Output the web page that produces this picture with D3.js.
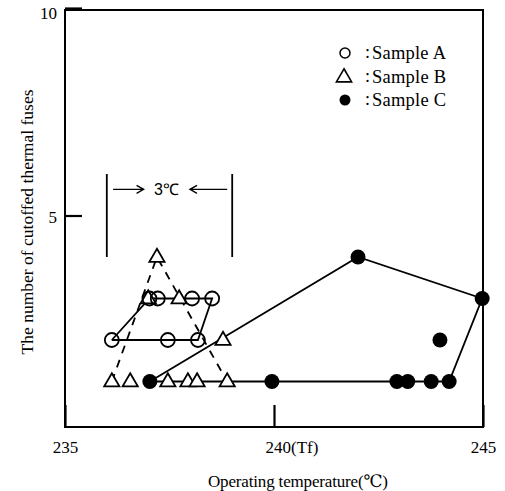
<!DOCTYPE html>
<html>
<head>
<meta charset="utf-8">
<script src="https://cdn.jsdelivr.net/npm/d3@7"></script>
<style>
  body { margin: 0; background: #fff; }
  svg { display: block; font-family: "Liberation Serif", "DejaVu Serif", serif; }
</style>
</head>
<body>
<script>
// sample A : open circles, solid outline (closed in this order)
const tempsA = [236.12, 237.02, 237.22, 238.04, 238.52, 238.18, 237.46];
const countsA = [2, 3, 3, 3, 3, 2, 2];

// sample B : open triangles, dashed outline through outlineB indices
const tempsB = [236.12, 236.56, 237.46, 237.94, 238.16, 238.88, 238.78, 237.73, 236.99, 237.2];
const countsB = [1, 1, 1, 1, 1, 1, 2, 3, 3, 4];
const outlineB = [0, 9, 5];

// sample C : filled circles, solid outline through outlineC indices
const tempsC = [237.03, 239.95, 242.94, 243.2, 243.76, 244.19, 244.98, 242.01, 243.97];
const countsC = [1, 1, 1, 1, 1, 1, 3, 4, 2];
const outlineC = [0, 7, 6, 5, 4, 3, 2, 1, 0];

const xTicks = [235, 240, 245];
const xTickLabels = ['235', '240(Tf)', '245'];
const yTicks = [5, 10];

const legendNames = ['Sample A', 'Sample B', 'Sample C'];
const bracketTemps = [236, 239];
const bracketCounts = [4, 6];
const bracketText = '3℃';

const width = 505, height = 491;

const svg = d3.select('body')
    .append('svg')
    .attr('width', width)
    .attr('height', height);

const x = d3.scaleLinear().domain([235, 245]).range([65, 483]);
const y = d3.scaleLinear().domain([0, 10]).range([423, 8]);

// frame
svg.append('rect')
    .attr('x', 65)
    .attr('y', 10)
    .attr('width', 418)
    .attr('height', 417)
    .attr('fill', 'none')
    .attr('stroke', '#000')
    .attr('stroke-width', 2);

// x axis (inward ticks)
const xAxis = d3.axisBottom(x)
    .tickValues(xTicks)
    .tickSize(-22)
    .tickPadding(14)
    .tickFormat((d, i) => xTickLabels[i]);

const gx = svg.append('g')
    .attr('transform', 'translate(0,427)')
    .call(xAxis);
gx.select('.domain').remove();
gx.attr('font-family', null);
gx.selectAll('.tick line').attr('stroke', '#000').attr('stroke-width', 2.2);
gx.selectAll('.tick text')
    .attr('font-size', 17)
    .attr('fill', '#000')
    .attr('text-anchor', (d) => d === 240 ? 'start' : 'middle')
    .attr('dx', (d) => d === 240 ? -9 : 0);

// y axis (inward ticks)
const yAxis = d3.axisLeft(y)
    .tickValues(yTicks)
    .tickSize(-17)
    .tickPadding(8);

const gy = svg.append('g')
    .attr('transform', 'translate(65,0)')
    .call(yAxis);
gy.select('.domain').remove();
gy.attr('font-family', null);
gy.selectAll('.tick line').attr('stroke', '#000').attr('stroke-width', 2.2);
gy.selectAll('.tick text')
    .attr('font-size', 17)
    .attr('fill', '#000')
    .attr('dy', (d) => d === 10 ? '0.6em' : '0.4em');

// axis titles
svg.append('text')
    .attr('x', 298)
    .attr('y', 487)
    .attr('text-anchor', 'middle')
    .attr('font-size', 17)
    .attr('textLength', 180)
    .attr('lengthAdjust', 'spacing')
    .text('Operating temperature(℃)');

svg.append('text')
    .attr('transform', 'translate(33,222) rotate(-90)')
    .attr('text-anchor', 'middle')
    .attr('font-size', 17.5)
    .attr('textLength', 265)
    .attr('lengthAdjust', 'spacing')
    .text('The number of cutoffed thermal fuses');

// outlines
const line = d3.line().x((d) => x(d[0])).y((d) => y(d[1]));

svg.append('path')
    .datum(tempsA.map((t, i) => [t, countsA[i]]).concat([[tempsA[0], countsA[0]]]))
    .attr('d', line)
    .attr('fill', 'none')
    .attr('stroke', '#000')
    .attr('stroke-width', 1.8);

svg.append('path')
    .datum(outlineB.map((i) => [tempsB[i], countsB[i]]))
    .attr('d', line)
    .attr('fill', 'none')
    .attr('stroke', '#000')
    .attr('stroke-width', 1.8)
    .attr('stroke-dasharray', '8,7');

svg.append('path')
    .datum(outlineC.map((i) => [tempsC[i], countsC[i]]))
    .attr('d', line)
    .attr('fill', 'none')
    .attr('stroke', '#000')
    .attr('stroke-width', 1.8);

// markers
const tri = d3.symbol().type(d3.symbolTriangle).size(100);

svg.selectAll('.mb')
    .data(tempsB)
    .enter()
    .append('path')
    .attr('class', 'mb')
    .attr('d', tri)
    .attr('transform', (d, i) => 'translate(' + x(d) + ',' + (y(countsB[i]) + 0.5) + ')')
    .attr('fill', '#fff')
    .attr('stroke', '#000')
    .attr('stroke-width', 1.8);

svg.selectAll('.ma')
    .data(tempsA)
    .enter()
    .append('circle')
    .attr('class', 'ma')
    .attr('cx', (d) => x(d))
    .attr('cy', (d, i) => y(countsA[i]))
    .attr('r', 7)
    .attr('fill', 'none')
    .attr('stroke', '#000')
    .attr('stroke-width', 1.8);

svg.selectAll('.mc')
    .data(tempsC)
    .enter()
    .append('circle')
    .attr('class', 'mc')
    .attr('cx', (d) => x(d))
    .attr('cy', (d, i) => y(countsC[i]))
    .attr('r', 7.5)
    .attr('fill', '#000');

// 3℃ bracket
bracketTemps.forEach((t) => {
    svg.append('line')
        .attr('x1', x(t)).attr('x2', x(t))
        .attr('y1', y(bracketCounts[1])).attr('y2', y(bracketCounts[0]))
        .attr('stroke', '#000')
        .attr('stroke-width', 1.8);
});
const arrowY = y(5.63);
const arrows = [[236.15, 236.88], [238.88, 237.99]];
arrows.forEach((a) => {
    const x1 = x(a[0]), x2 = x(a[1]);
    const dir = x2 > x1 ? 1 : -1;
    svg.append('path')
        .attr('d', 'M' + x1 + ',' + arrowY + 'H' + x2 +
            'M' + (x2 - dir * 7) + ',' + (arrowY - 4) + 'L' + x2 + ',' + arrowY + 'L' + (x2 - dir * 7) + ',' + (arrowY + 4))
        .attr('fill', 'none')
        .attr('stroke', '#000')
        .attr('stroke-width', 1.4);
});
svg.append('text')
    .attr('x', x(237.43))
    .attr('y', arrowY + 6)
    .attr('text-anchor', 'middle')
    .attr('font-size', 16)
    .attr('font-family', 'Liberation Sans')
    .text(bracketText);

// legend
const legend = svg.append('g').attr('transform', 'translate(345,53)');
legendNames.forEach((name, i) => {
    const g = legend.append('g').attr('transform', 'translate(0,' + (i * 23.5) + ')');
    if (i === 0) {
        g.append('circle').attr('r', 5).attr('fill', 'none').attr('stroke', '#000').attr('stroke-width', 1.5);
    } else if (i === 1) {
        g.append('path').attr('d', d3.symbol().type(d3.symbolTriangle).size(100)).attr('transform', 'translate(-1,1)')
            .attr('fill', 'none').attr('stroke', '#000').attr('stroke-width', 1.6);
    } else {
        g.append('circle').attr('r', 5.5).attr('fill', '#000');
    }
    g.append('text')
        .attr('x', 20)
        .attr('y', 5)
        .attr('font-size', 18)
        .text(':');
    g.append('text')
        .attr('x', 27)
        .attr('y', 6)
        .attr('font-size', 18.5)
        .attr('textLength', 74)
        .attr('lengthAdjust', 'spacing')
        .text(name);
});
</script>
</body>
</html>
